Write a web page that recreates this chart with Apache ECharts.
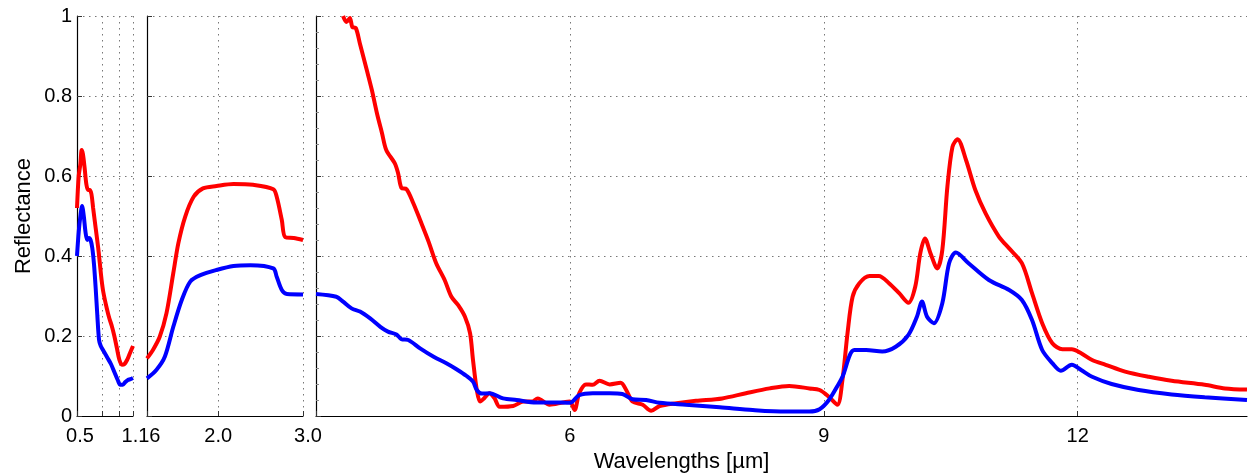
<!DOCTYPE html>
<html>
<head>
<meta charset="utf-8">
<title>Reflectance</title>
<script src="https://cdn.jsdelivr.net/npm/echarts@6.0.0/dist/echarts.min.js"></script>
<style>
  html, body { margin: 0; padding: 0; background: #fff; }
  #main { width: 1249px; height: 473px; }
</style>
</head>
<body>
<div id="main"></div>
<script>
// [wavelength (um), reflectance], one list per panel
var redVnir = [[0.50,0.52],[0.52,0.60],[0.54,0.63],[0.555,0.665],[0.57,0.655],[0.59,0.62],[0.61,0.58],[0.63,0.565],
  [0.65,0.565],[0.67,0.555],[0.69,0.52],[0.72,0.47],[0.75,0.42],[0.77,0.38],[0.79,0.34],[0.81,0.31],[0.85,0.27],
  [0.88,0.245],[0.91,0.225],[0.94,0.20],[0.97,0.17],[1.00,0.14],[1.03,0.128],[1.06,0.13],[1.09,0.14],[1.12,0.155],[1.16,0.175]];
var blueVnir = [[0.50,0.40],[0.52,0.46],[0.54,0.50],[0.56,0.525],[0.58,0.50],[0.60,0.46],[0.62,0.44],[0.64,0.445],
  [0.66,0.44],[0.68,0.42],[0.70,0.38],[0.72,0.32],[0.74,0.25],[0.76,0.19],[0.78,0.175],[0.82,0.16],[0.86,0.145],
  [0.90,0.13],[0.94,0.11],[0.98,0.09],[1.01,0.078],[1.04,0.078],[1.07,0.085],[1.10,0.09],[1.13,0.092],[1.16,0.095]];

var redSwir = [[1.16,0.144],[1.23,0.165],[1.31,0.198],[1.39,0.257],[1.47,0.357],[1.53,0.432],[1.61,0.498],[1.71,0.548],
  [1.82,0.569],[1.98,0.575],[2.18,0.58],[2.41,0.578],[2.65,0.567],[2.69,0.548],[2.75,0.49],[2.79,0.447],[2.89,0.445],[3.0,0.44]];
var blueSwir = [[1.16,0.094],[1.27,0.115],[1.37,0.148],[1.47,0.223],[1.57,0.29],[1.67,0.336],[1.79,0.352],[1.98,0.365],
  [2.18,0.375],[2.38,0.377],[2.65,0.369],[2.69,0.348],[2.75,0.315],[2.81,0.305],[3.0,0.304]];

var redTir = [[3.32,1.0],[3.36,0.985],[3.40,0.995],[3.43,0.972],[3.47,0.97],[3.52,0.93],[3.60,0.865],[3.66,0.815],
  [3.72,0.757],[3.78,0.707],[3.83,0.665],[3.93,0.632],[3.97,0.607],[4.01,0.57],[4.07,0.567],[4.15,0.532],[4.23,0.49],
  [4.33,0.436],[4.42,0.382],[4.52,0.34],[4.60,0.298],[4.68,0.277],[4.76,0.248],[4.82,0.207],[4.855,0.14],[4.90,0.065],
  [4.94,0.036],[4.99,0.045],[5.05,0.057],[5.11,0.044],[5.17,0.023],[5.33,0.025],[5.45,0.036],[5.55,0.036],[5.62,0.044],
  [5.76,0.028],[5.92,0.034],[6.0,0.036],[6.055,0.015],[6.11,0.057],[6.19,0.079],[6.27,0.078],[6.35,0.088],[6.47,0.079],
  [6.60,0.083],[6.665,0.065],[6.74,0.036],[6.86,0.028],[6.96,0.013],[7.06,0.025],[7.26,0.032],[7.49,0.038],[7.80,0.044],
  [8.08,0.057],[8.36,0.069],[8.59,0.075],[8.83,0.069],[8.95,0.065],[9.06,0.048],[9.16,0.028],[9.22,0.09],[9.28,0.207],
  [9.34,0.298],[9.42,0.332],[9.54,0.35],[9.65,0.35],[9.77,0.332],[9.89,0.307],[10.0,0.283],[10.08,0.323],[10.14,0.407],
  [10.195,0.444],[10.26,0.407],[10.34,0.369],[10.40,0.415],[10.46,0.573],[10.52,0.673],[10.58,0.692],[10.68,0.64],
  [10.79,0.565],[10.91,0.507],[11.07,0.448],[11.19,0.419],[11.34,0.382],[11.46,0.307],[11.58,0.232],[11.70,0.182],
  [11.82,0.167],[11.93,0.167],[12.04,0.157],[12.17,0.14],[12.33,0.128],[12.56,0.111],[12.84,0.098],[13.11,0.088],
  [13.5,0.078],[13.74,0.069],[14.0,0.066]];
var blueTir = [[3.0,0.305],[3.24,0.298],[3.32,0.286],[3.42,0.269],[3.52,0.261],[3.64,0.244],[3.76,0.223],[3.85,0.211],
  [3.95,0.204],[4.01,0.192],[4.09,0.19],[4.23,0.169],[4.39,0.148],[4.54,0.132],[4.66,0.117],[4.78,0.10],[4.855,0.086],
  [4.90,0.065],[4.96,0.056],[5.05,0.057],[5.21,0.044],[5.37,0.04],[5.6,0.034],[5.8,0.034],[6.0,0.033],[6.11,0.052],
  [6.27,0.057],[6.47,0.057],[6.62,0.055],[6.74,0.042],[6.9,0.04],[7.06,0.033],[7.37,0.028],[7.77,0.022],[8.16,0.015],
  [8.55,0.011],[8.83,0.011],[8.95,0.017],[9.06,0.04],[9.18,0.082],[9.22,0.098],[9.36,0.165],[9.5,0.165],[9.69,0.161],
  [9.85,0.173],[10.0,0.203],[10.1,0.248],[10.16,0.286],[10.22,0.248],[10.30,0.232],[10.40,0.282],[10.48,0.382],
  [10.56,0.409],[10.71,0.382],[10.95,0.34],[11.19,0.315],[11.34,0.29],[11.46,0.24],[11.58,0.165],[11.70,0.132],
  [11.80,0.113],[11.93,0.128],[12.04,0.115],[12.17,0.098],[12.4,0.08],[12.72,0.065],[13.11,0.054],[13.5,0.047],[14.0,0.04]];

// ticks / labels
var vnirTicks = [0.5, 0.8, 1.0, 1.16];
var vnirLabels = [0.5];
var swirTicks = [1.16, 2.0, 3.0];
var tirTicks = [3, 6, 9, 12];
var tirLabels = [6, 9, 12];

var font = 'Liberation Sans, Arial, sans-serif';
var dotted = { type: [1.5, 4.5], color: '#777', width: 1 };

function xAx(idx, min, max, ticks, labels, fmt) {
  return {
    type: 'value', gridIndex: idx, min: min, max: max,
    axisLine: { lineStyle: { color: '#000', width: 1.2 } },
    axisTick: { inside: true, length: 5, customValues: ticks, lineStyle: { color: '#333' } },
    axisLabel: { customValues: labels, color: '#000', fontSize: 20, fontFamily: font, margin: 10, formatter: fmt },
    splitLine: { show: true, lineStyle: dotted }
  };
}
function yAx(idx, showLabel) {
  return {
    type: 'value', gridIndex: idx, min: 0, max: 1, interval: 0.2,
    axisLine: { show: true, lineStyle: { color: '#000', width: 1.2 } },
    axisTick: { show: true, inside: true, length: 5, lineStyle: { color: '#333' } },
    axisLabel: { show: showLabel, color: '#000', fontSize: 20, fontFamily: font, margin: 5,
      formatter: function (v) { return v === 0 || v === 1 ? String(v) : v.toFixed(1); } },
    splitLine: { show: true, lineStyle: dotted }
  };
}
function line(data, color, xi) {
  return {
    type: 'line', data: data, xAxisIndex: xi, yAxisIndex: xi,
    showSymbol: false, smooth: 0.3, clip: true,
    lineStyle: { color: color, width: 4 }, itemStyle: { color: color }
  };
}

var rich = {
  l: { fontSize: 20, fontFamily: font, color: '#000', padding: [0, 12, 0, 0] },
  r: { fontSize: 20, fontFamily: font, color: '#000', padding: [0, 0, 0, 10] },
  s: { fontSize: 20, fontFamily: font, color: '#000', padding: [0, 0, 0, 6] }
};

var xAxes = [
  xAx(0, 0.5, 1.16, vnirTicks, vnirLabels, function () { return '{s|0.5}'; }),
  xAx(1, 1.16, 3.0, swirTicks, swirTicks, function (v) {
    if (v === 1.16) return '{l|1.16}';
    if (v === 3) return '{r|3.0}';
    return v.toFixed(1);
  }),
  xAx(2, 3, 14, tirTicks, tirLabels, function (v) { return String(v); })
];
xAxes[0].axisLabel.rich = rich;
xAxes[1].axisLabel.rich = rich;
xAxes[2].name = 'Wavelengths [\u00b5m]';
xAxes[2].nameLocation = 'middle';
xAxes[2].nameGap = 29;
xAxes[2].nameTextStyle = { fontSize: 22, fontFamily: font, color: '#000', padding: [0, 200, 0, 0] };

var yAxes = [yAx(0, true), yAx(1, false), yAx(2, false)];
yAxes[0].name = 'Reflectance';
yAxes[0].nameLocation = 'middle';
yAxes[0].nameGap = 42;
yAxes[0].nameTextStyle = { fontSize: 22, fontFamily: font, color: '#000' };
yAxes[2].minorTick = { show: true, splitNumber: 5, length: 3, lineStyle: { color: '#888' } };

var chart = echarts.init(document.getElementById('main'));
chart.setOption({
  animation: false,
  backgroundColor: '#fff',
  grid: [
    { left: 77, width: 56, top: 16, bottom: 57, outerBoundsMode: 'none' },
    { left: 147, width: 156, top: 16, bottom: 57, outerBoundsMode: 'none' },
    { left: 316, width: 931, top: 16, bottom: 57, outerBoundsMode: 'none' }
  ],
  xAxis: xAxes,
  yAxis: yAxes,
  series: [
    line(redVnir, '#ff0000', 0), line(blueVnir, '#0000ff', 0),
    line(redSwir, '#ff0000', 1), line(blueSwir, '#0000ff', 1),
    line(redTir, '#ff0000', 2), line(blueTir, '#0000ff', 2)
  ]
});
</script>
</body>
</html>
